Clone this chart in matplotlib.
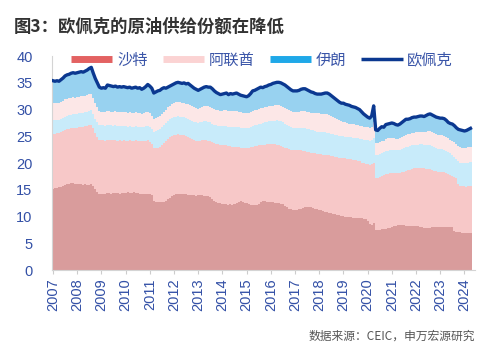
import matplotlib
matplotlib.use("Agg")
import matplotlib.pyplot as plt
from matplotlib.lines import Line2D
import numpy as np

plt.rcParams['font.family'] = ['Liberation Sans', 'Noto Sans CJK SC', 'DejaVu Sans']

# Monthly data, Jan 2007 - Apr 2024 (share, %)
start_year = 2007
years = list(range(2007, 2025))

# OPEC total share (line)
opec = [
    35.4, 35.3, 35.4, 35.3, 35.6, 35.9, 36.3, 36.5, 36.6, 36.8, 36.9, 36.8,
    36.9, 37.0, 37.1, 37.0, 37.2, 37.4, 37.7, 37.9, 36.8, 35.8, 35.0, 34.2,
    34.0, 34.1, 34.0, 34.6, 34.5, 34.4, 34.3, 34.4, 34.2, 34.3, 34.2, 34.3,
    34.2, 34.1, 34.2, 34.0, 34.1, 34.2, 34.0, 34.1, 33.8, 34.0, 34.3, 34.7,
    34.4, 34.0, 33.1, 33.3, 33.5, 33.6, 33.9, 34.1, 34.0, 34.2, 34.4, 34.6,
    34.8, 35.0, 35.1, 35.0, 34.9, 35.0, 34.8, 34.9, 34.6, 34.3, 34.0, 33.8,
    33.6, 33.8, 34.0, 34.2, 34.3, 34.2, 34.2, 33.9, 33.5, 33.2, 33.0, 32.8,
    32.9, 33.0, 33.1, 32.8, 33.0, 32.9, 33.0, 33.1, 32.9, 32.7, 32.6, 32.5,
    32.4, 32.6, 33.0, 33.5, 33.6, 33.8, 34.0, 34.2, 34.1, 34.3, 34.4, 34.6,
    34.7, 34.9, 35.0, 35.1, 35.1, 35.0, 34.8, 34.6, 34.3, 34.0, 33.7, 33.5,
    33.5, 33.5, 33.6, 33.8, 33.9, 33.9, 33.7, 33.5, 33.3, 33.2, 33.0, 32.9,
    32.9, 32.9, 33.0, 33.1, 33.1, 32.9, 32.6, 32.3, 32.0, 31.7, 31.4, 31.2,
    31.2, 31.0, 30.9, 30.8, 30.6, 30.5, 30.4, 30.2, 30.0, 29.6, 29.2, 28.9,
    28.6, 28.4, 28.8, 30.7, 26.2, 26.1, 26.5, 26.8, 26.7, 27.2, 27.3, 27.4,
    27.5, 27.4, 27.2, 27.1, 27.3, 27.6, 27.9, 28.2, 28.2, 28.3, 28.5, 28.6,
    28.6, 28.7, 28.8, 28.8, 28.7, 28.9, 29.1, 29.2, 29.0, 28.8, 28.6, 28.5,
    28.4, 28.4, 28.3, 28.0, 27.6, 27.4, 27.3, 27.0, 26.6, 26.3, 26.2, 26.1,
    26.0, 26.1, 26.3, 26.5,
]

# Top of the pale pink band (cumulative level)
level4 = [
    31.2, 31.2, 31.3, 31.3, 31.5, 31.7, 31.9, 32.0, 32.1, 32.2, 32.3, 32.2,
    32.3, 32.4, 32.5, 32.5, 32.6, 32.7, 32.9, 33.0, 32.2, 31.2, 30.4, 29.8,
    29.6, 29.6, 29.5, 29.8, 29.7, 29.6, 29.6, 29.7, 29.5, 29.6, 29.5, 29.6,
    29.5, 29.4, 29.5, 29.4, 29.4, 29.5, 29.3, 29.4, 29.2, 29.3, 29.5, 29.6,
    29.3, 28.8, 28.3, 28.4, 28.6, 28.8, 29.2, 29.6, 30.0, 30.4, 30.7, 31.0,
    31.2, 31.4, 31.5, 31.4, 31.3, 31.3, 31.1, 31.0, 30.8, 30.6, 30.4, 30.3,
    30.2, 30.3, 30.5, 30.6, 30.7, 30.6, 30.5, 30.3, 30.1, 30.0, 29.9, 29.8,
    29.8, 29.9, 29.9, 29.7, 29.8, 29.7, 29.8, 29.8, 29.6, 29.5, 29.4, 29.3,
    29.3, 29.4, 29.6, 29.8, 29.9, 30.0, 30.1, 30.3, 30.3, 30.4, 30.5, 30.6,
    30.6, 30.7, 30.8, 30.8, 30.8, 30.7, 30.5, 30.3, 30.1, 29.9, 29.7, 29.6,
    29.6, 29.6, 29.6, 29.7, 29.7, 29.7, 29.6, 29.5, 29.4, 29.3, 29.3, 29.3,
    29.3, 29.2, 29.2, 29.1, 29.1, 29.0, 28.8, 28.6, 28.4, 28.2, 28.0, 27.8,
    27.7, 27.6, 27.5, 27.4, 27.3, 27.3, 27.2, 27.1, 27.0, 26.9, 26.8, 26.7,
    26.7, 26.6, 26.8, 27.6, 23.8, 23.7, 24.0, 24.2, 24.2, 24.5, 24.6, 24.6,
    24.7, 24.6, 24.5, 24.5, 24.7, 24.9, 25.1, 25.3, 25.4, 25.5, 25.6, 25.7,
    25.8, 25.8, 25.9, 25.9, 25.8, 25.9, 26.0, 26.0, 25.8, 25.6, 25.4, 25.3,
    25.2, 25.2, 25.1, 24.9, 24.6, 24.4, 24.2, 24.0, 23.6, 23.2, 23.0, 22.9,
    22.9, 22.9, 23.0, 23.1,
]

# Top of the light blue band
level3 = [
    28.0, 28.0, 28.1, 28.1, 28.3, 28.5, 28.7, 28.8, 28.9, 29.0, 29.1, 29.1,
    29.2, 29.3, 29.4, 29.4, 29.5, 29.6, 29.8, 29.9, 29.2, 28.3, 27.6, 27.2,
    27.1, 27.1, 27.0, 27.2, 27.1, 27.1, 27.0, 27.1, 27.0, 27.0, 26.9, 27.0,
    26.9, 26.8, 26.9, 26.8, 26.8, 26.9, 26.7, 26.8, 26.7, 26.7, 26.9, 27.0,
    26.7, 26.3, 25.9, 26.0, 26.2, 26.4, 26.7, 27.1, 27.5, 27.9, 28.2, 28.5,
    28.6, 28.7, 28.8, 28.7, 28.6, 28.6, 28.4, 28.3, 28.1, 27.9, 27.7, 27.6,
    27.5, 27.6, 27.7, 27.8, 27.8, 27.7, 27.6, 27.4, 27.2, 27.1, 27.0, 26.9,
    26.9, 26.9, 26.9, 26.8, 26.8, 26.7, 26.8, 26.8, 26.7, 26.6, 26.5, 26.5,
    26.5, 26.6, 26.8, 27.0, 27.1, 27.2, 27.3, 27.4, 27.5, 27.6, 27.7, 27.8,
    27.8, 27.9, 27.9, 28.0, 27.9, 27.8, 27.6, 27.4, 27.2, 27.0, 26.8, 26.6,
    26.5, 26.5, 26.5, 26.6, 26.6, 26.5, 26.4, 26.3, 26.2, 26.1, 26.0, 25.9,
    25.9, 25.8, 25.8, 25.8, 25.7, 25.6, 25.5, 25.4, 25.3, 25.2, 25.1, 25.0,
    25.0, 24.9, 24.9, 24.8, 24.8, 24.7, 24.7, 24.6, 24.5, 24.5, 24.4, 24.3,
    24.3, 24.2, 24.3, 24.6, 21.5, 21.5, 21.7, 21.9, 22.0, 22.2, 22.3, 22.4,
    22.4, 22.4, 22.4, 22.4, 22.5, 22.6, 22.8, 23.0, 23.1, 23.2, 23.3, 23.4,
    23.4, 23.4, 23.5, 23.5, 23.4, 23.4, 23.4, 23.4, 23.2, 23.0, 22.8, 22.7,
    22.6, 22.6, 22.5, 22.3, 22.0, 21.8, 21.5, 21.2, 20.8, 20.3, 20.1, 20.0,
    20.0, 20.0, 20.1, 20.2,
]

# Top of the light red band
level2 = [
    25.5, 25.5, 25.6, 25.7, 25.8, 26.0, 26.2, 26.3, 26.4, 26.5, 26.6, 26.6,
    26.6, 26.7, 26.8, 26.8, 26.9, 27.0, 27.1, 27.1, 26.5, 25.6, 24.9, 24.4,
    24.3, 24.3, 24.2, 24.4, 24.3, 24.3, 24.3, 24.3, 24.2, 24.3, 24.2, 24.3,
    24.2, 24.2, 24.3, 24.2, 24.2, 24.3, 24.2, 24.2, 24.1, 24.1, 24.2, 24.3,
    24.0, 23.5, 22.8, 22.8, 22.9, 23.0, 23.3, 23.7, 24.1, 24.5, 24.8, 25.1,
    25.2, 25.3, 25.4, 25.3, 25.2, 25.2, 25.0, 24.9, 24.7, 24.5, 24.3, 24.2,
    24.1, 24.2, 24.3, 24.3, 24.3, 24.2, 24.1, 23.9, 23.7, 23.6, 23.5, 23.4,
    23.4, 23.4, 23.3, 23.2, 23.2, 23.1, 23.1, 23.1, 23.0, 22.9, 22.8, 22.8,
    22.8, 22.9, 23.0, 23.1, 23.2, 23.2, 23.3, 23.3, 23.4, 23.4, 23.5, 23.5,
    23.5, 23.5, 23.5, 23.4, 23.3, 23.2, 23.0, 22.9, 22.8, 22.6, 22.5, 22.4,
    22.4, 22.4, 22.4, 22.4, 22.3, 22.2, 22.1, 22.0, 21.9, 21.8, 21.8, 21.7,
    21.7, 21.7, 21.6, 21.6, 21.5, 21.5, 21.4, 21.3, 21.2, 21.1, 21.0, 21.0,
    20.9, 20.9, 20.8, 20.8, 20.7, 20.6, 20.5, 20.4, 20.3, 20.1, 20.0, 19.9,
    19.8, 19.7, 19.9, 20.0, 17.3, 17.2, 17.4, 17.6, 17.7, 17.9, 18.0, 18.1,
    18.1, 18.1, 18.1, 18.1, 18.2, 18.3, 18.4, 18.6, 18.7, 18.8, 18.9, 19.0,
    19.0, 19.0, 19.0, 19.1, 19.0, 18.9, 18.9, 18.9, 18.7, 18.6, 18.5, 18.4,
    18.4, 18.4, 18.3, 18.2, 18.0, 17.8, 17.6, 17.4, 17.3, 16.0, 15.7, 15.7,
    15.7, 15.6, 15.7, 15.8,
]

# Saudi (bottom, dark red band)
saudi = [
    15.2, 15.3, 15.4, 15.5, 15.6, 15.7, 15.9, 16.0, 16.1, 16.2, 16.2, 16.1,
    16.1, 16.0, 16.0, 15.9, 16.0, 15.9, 15.9, 16.0, 15.8, 15.2, 14.6, 14.3,
    14.2, 14.2, 14.2, 14.4, 14.4, 14.3, 14.4, 14.4, 14.4, 14.3, 14.4, 14.4,
    14.4, 14.5, 14.4, 14.4, 14.5, 14.4, 14.4, 14.3, 14.3, 14.3, 14.2, 14.3,
    14.2, 14.1, 13.0, 12.8, 12.8, 12.7, 12.8, 12.8, 12.9, 13.2, 13.5, 13.8,
    14.0, 14.2, 14.2, 14.3, 14.2, 14.2, 14.2, 14.1, 14.1, 14.0, 14.0, 13.9,
    14.0, 14.0, 14.0, 13.9, 13.9, 13.9, 13.6, 13.3, 13.0, 12.8, 12.6, 12.5,
    12.4, 12.3, 12.3, 12.2, 12.3, 12.2, 12.4, 12.6, 12.8, 12.9, 12.8, 12.6,
    12.5, 12.3, 12.2, 12.1, 12.1, 12.2, 12.4, 12.8, 12.9, 12.9, 12.8, 12.8,
    12.7, 12.7, 12.6, 12.6, 12.5, 12.4, 12.3, 12.0, 11.7, 11.5, 11.4, 11.3,
    11.3, 11.3, 11.4, 11.5, 11.6, 11.7, 11.8, 11.8, 11.7, 11.6, 11.5, 11.4,
    11.3, 11.2, 11.0, 10.9, 10.8, 10.7, 10.6, 10.5, 10.4, 10.3, 10.2, 10.1,
    10.1, 10.0, 10.0, 9.9, 9.9, 9.8, 9.8, 9.7, 9.7, 9.7, 9.6, 9.6,
    9.2, 8.6, 8.4, 8.8, 7.5, 7.5, 7.5, 7.6, 7.6, 7.7, 7.8, 7.9,
    8.1, 8.2, 8.3, 8.4, 8.4, 8.4, 8.4, 8.3, 8.3, 8.3, 8.3, 8.3,
    8.3, 8.2, 8.1, 8.0, 7.9, 7.8, 7.8, 7.9, 8.0, 8.1, 8.1, 8.1,
    8.1, 8.1, 8.1, 8.1, 8.1, 8.1, 8.0, 7.3, 7.2, 7.1, 7.1, 7.0,
    7.0, 7.0, 7.0, 7.0,
]

legend_labels = ['沙特', '阿联酋', '伊朗', '欧佩克']

# ---------------------------------------------------------------
n = len(opec)
x = start_year + np.arange(n) / 12.0
opec_a = np.array(opec)
l4 = np.array(level4)
l3 = np.array(level3)
l2 = np.array(level2)
l1 = np.array(saudi)

fig = plt.figure(figsize=(4.98, 3.53), dpi=100)
ax = fig.add_axes([0.1044, 0.235, 0.8496, 0.606])

w = 1.0 / 12
layer_cols = ['#d99c9c', '#f7c8c8', '#c8ebfa', '#fce7e7', '#98d2f0']
bottoms = [np.zeros(n), l1, l2, l3, l4]
tops = [l1, l2, l3, l4, opec_a]
for b, t, c in zip(bottoms, tops, layer_cols):
    ax.bar(x, t - b, bottom=b, width=w, color=c, edgecolor='none', linewidth=0,
           antialiased=False)

ax.plot(x, opec_a, color='#0b3890', lw=2.4, solid_joinstyle='round', zorder=5)

ax.set_ylim(0, 40)
ax.set_xlim(2006.96, 2024.44)
ax.set_yticks(range(0, 41, 5))
ax.set_xticks(years)
ax.set_xticklabels([str(y) for y in years], rotation=90)

tick_col = '#3350a6'
ax.tick_params(axis='y', length=0, pad=14, labelsize=10.5, labelcolor=tick_col)
ax.tick_params(axis='x', length=3, color='#cccccc', pad=3, labelsize=10.5, labelcolor=tick_col)
for s in ['top', 'right']:
    ax.spines[s].set_visible(False)
for s in ['left', 'bottom']:
    ax.spines[s].set_color('#d4d4d4')
    ax.spines[s].set_linewidth(0.8)

handles = [
    Line2D([0], [0], color='#e36262', lw=5, solid_capstyle='butt'),
    Line2D([0], [0], color='#fbd3d3', lw=5, solid_capstyle='butt'),
    Line2D([0], [0], color='#1fa8e8', lw=5, solid_capstyle='butt'),
    Line2D([0], [0], color='#0b3890', lw=2.5, solid_capstyle='butt'),
]
leg = fig.legend(handles, legend_labels, loc='center left', bbox_to_anchor=(0.143, 0.830),
                 ncol=4, frameon=False, handlelength=2.7, handletextpad=0.3,
                 columnspacing=1.0, borderpad=0, borderaxespad=0,
                 prop={'family': ['Noto Sans CJK SC'], 'size': 11})
for t in leg.get_texts():
    t.set_color('#3a55a8')

fig.text(0.028, 0.924, '图3：欧佩克的原油供给份额在降低', ha='left', va='center',
         fontsize=12.5, fontweight='bold', color='#333333', family=['Noto Sans CJK SC'])
fig.text(0.954, 0.048, '数据来源：CEIC，申万宏源研究', ha='right', va='center',
         fontsize=8.5, color='#555555', family=['Noto Sans CJK SC'])

fig.savefig('out.png', dpi=100, facecolor='white')
